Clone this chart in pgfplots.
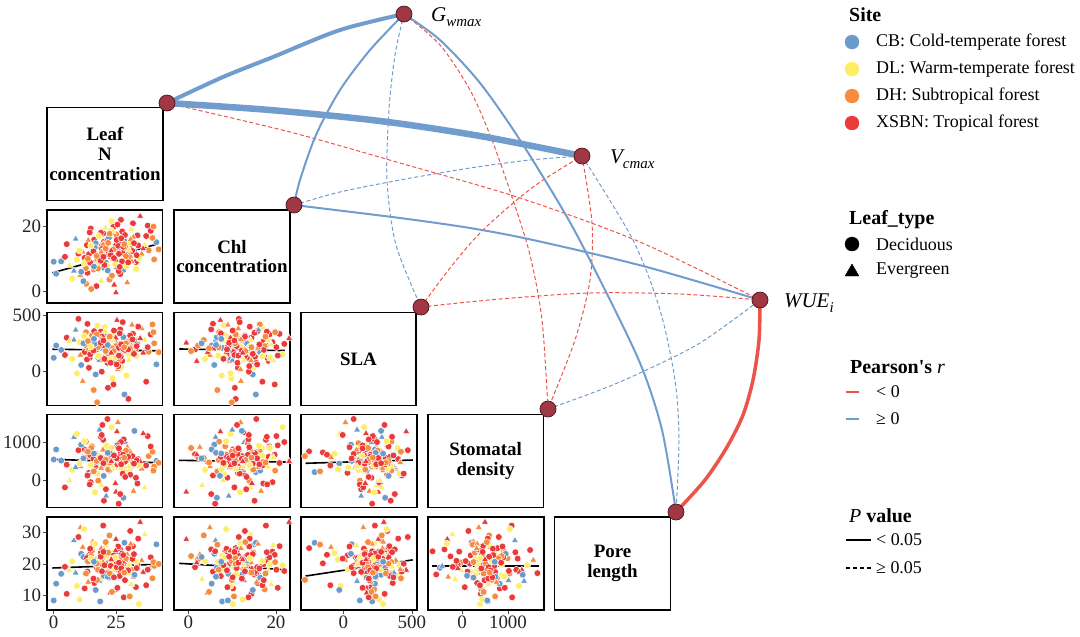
\documentclass[border=0pt]{standalone}
\usepackage{fontspec}
\setmainfont{Liberation Serif}[Ligatures=TeXOff]
\usepackage{pgfplots}
\usepackage{pgfplotstable}
\pgfplotsset{compat=1.18}

\definecolor{cbc}{RGB}{107,155,204}
\definecolor{dlc}{RGB}{255,238,100}
\definecolor{dhc}{RGB}{245,140,62}
\definecolor{xsc}{RGB}{234,58,58}
\definecolor{edgeblue}{RGB}{112,157,206}
\definecolor{edgered}{RGB}{236,84,74}
\definecolor{nodefill}{RGB}{160,56,68}
\definecolor{nodeedge}{RGB}{70,22,28}

\pgfplotstableread{
LN Chl SLA SD PL g
22.0 12.1 215 480 19.2 Rd
15.3 8.4 322 905 24.1 Od
30.2 14.6 148 252 17.3 Yd
8.1 6.2 281 1150 27.4 Ce
27.4 18.3 92 622 22.0 Rd
19.0 3.1 243 -148 15.2 Ye
35.2 11.4 383 301 21.1 Oe
12.4 10.2 172 820 12.3 Rd
41.1 15.0 61 512 26.2 Cd
25.3 7.3 458 1302 18.1 Re
17.8 13.9 120 -20 20.5 Od
23.6 9.8 -65 705 23.4 Yd
5.2 14.4 301 410 10.6 Rd
28.8 12.7 205 1010 14.8 Ce
33.5 17.1 266 -95 19.9 Rd
10.7 4.9 145 365 31.5 Oe
20.4 16.8 395 860 16.4 Yd
14.1 11.3 30 190 22.7 Rd
38.0 12.5 175 640 18.5 Od
24.9 -0.5 255 -320 27.8 Re
9.3 9.6 -20 1240 13.1 Yd
31.7 20.8 335 455 25.6 Rd
18.6 7.7 210 560 8.2 Cd
26.2 13.5 110 990 21.8 Od
13.5 5.6 425 120 17.6 Rd
36.4 14.2 280 -210 29.3 Ye
21.7 10.6 -150 740 20.2 Rd
3.0 9.1 190 520 16.9 Cd
29.4 2.6 240 880 23.0 Oe
16.2 15.8 360 330 14.0 Rd
23.1 21.5 150 1420 19.6 Yd
32.9 8.9 205 60 12.7 Rd
11.6 12.0 -90 610 25.3 Oe
27.9 6.5 305 -480 18.8 Cd
19.8 17.7 230 1080 32.1 Rd
7.4 3.8 110 270 20.8 Yd
39.5 16.3 420 760 15.5 Od
22.6 4.4 170 470 10.9 Re
14.8 19.2 260 -60 23.9 Rd
25.7 11.9 15 1550 21.2 Oe
34.1 10.1 290 390 7.4 Yd
17.1 1.5 195 690 19.0 Rd
28.3 15.4 -210 210 26.7 Cd
12.9 7.0 350 1030 17.0 Od
20.9 13.2 130 -250 22.4 Rd
31.0 18.9 240 580 13.6 Ye
9.9 11.5 470 800 28.5 Rd
24.4 9.4 85 330 20.0 Oe
37.6 20.1 215 1180 18.2 Rd
16.8 14.7 -30 440 11.8 Cd
26.6 5.2 375 -380 24.6 Rd
21.3 16.1 160 920 16.1 Yd
13.0 2.2 230 610 21.5 Od
30.6 12.9 320 140 30.4 Rd
18.3 10.0 100 1350 14.6 Ce
40.2 9.7 250 360 19.4 Od
23.9 19.7 -120 680 22.9 Rd
6.3 7.9 265 -10 18.0 Ye
28.0 13.7 185 1090 9.5 Rd
15.6 12.6 290 250 27.0 Oe
33.0 6.8 140 530 20.7 Yd
20.1 15.1 345 -560 16.7 Rd
11.0 5.9 55 950 23.2 Cd
25.0 17.4 225 420 12.0 Od
29.9 10.8 -250 770 25.0 Rd
17.5 8.1 410 170 19.7 Yd
35.8 13.0 165 1250 17.4 Re
22.3 3.5 280 590 29.0 Od
14.4 18.0 120 -120 21.0 Rd
1.0 5.3 230 820 13.8 Cd
27.1 14.9 35 330 18.4 Yd
19.5 11.1 300 1480 24.4 Rd
31.9 16.6 190 -300 15.9 Oe
24.2 1.9 90 680 20.4 Re
10.3 12.4 260 440 8.8 Yd
38.8 18.5 330 900 22.1 Rd
16.0 6.6 -170 230 26.1 Od
26.9 21.9 245 1020 17.8 Rd
21.0 9.2 130 -430 19.3 Ce
33.8 14.0 400 560 28.0 Rd
13.8 15.6 200 750 14.3 Oe
29.1 7.6 -40 290 21.4 Yd
18.9 17.9 355 1160 23.7 Rd
23.3 4.7 205 470 11.2 Od
4.5 10.5 145 -200 19.1 Rd
32.3 12.2 275 1320 16.6 Cd
20.7 19.4 95 610 25.9 Ye
27.6 11.7 440 170 20.1 Rd
15.0 0.6 180 860 22.5 Od
37.0 16.9 -95 390 13.3 Rd
12.2 8.6 315 1040 31.0 Yd
24.7 14.5 160 -90 18.6 Re
30.4 10.4 235 720 9.8 Od
19.2 13.8 -5 1210 21.7 Rd
8.8 16.0 370 340 17.2 Ce
26.0 6.1 210 -640 24.0 Rd
22.9 18.6 120 860 19.8 Yd
34.6 23.0 295 500 33.2 Re
17.4 9.9 -280 640 15.0 Od
28.6 13.3 185 80 20.9 Rd
11.9 3.0 250 580 22.2 Cd
21.5 15.5 75 1640 17.1 Rd
39.9 19.8 350 250 20.6 Od
16.5 11.8 225 -330 26.4 Yd
25.5 20.4 140 930 12.5 Rd
31.3 9.0 415 470 18.3 Oe
13.3 14.1 105 780 21.9 Rd
20.0 7.2 330 110 16.3 Cd
42.0 12.8 170 460 20.0 Od
0.0 9.0 120 550 8.5 Cd
18.5 9.5 240 520 20.3 Rd
24.0 12.8 180 610 18.9 Od
21.2 7.8 290 430 22.6 Yd
26.8 15.2 130 720 17.5 Rd
16.9 11.6 205 380 21.3 Re
29.5 13.1 260 560 19.5 Od
14.6 8.7 150 670 24.8 Rd
23.4 10.9 320 300 16.8 Yd
19.7 14.3 95 810 20.6 Oe
27.3 9.1 230 450 23.3 Rd
22.1 16.4 170 250 15.7 Cd
31.5 12.3 285 640 21.6 Rd
17.7 6.9 215 540 18.2 Od
25.8 13.9 45 880 25.5 Rd
20.6 10.3 355 370 19.1 Ye
28.5 17.2 190 490 14.9 Rd
13.7 9.9 270 760 20.8 Od
24.6 8.3 125 410 22.0 Yd
19.3 12.9 310 590 17.7 Rd
30.8 15.9 210 330 26.3 Oe
22.8 11.2 75 700 19.4 Rd
16.4 13.4 245 480 21.1 Cd
26.4 7.4 340 620 16.2 Rd
21.8 14.8 160 280 23.6 Od
33.2 11.0 225 530 18.7 Rd
18.0 16.9 135 650 20.9 Yd
24.8 9.6 300 390 24.2 Re
15.9 12.2 185 570 15.4 Rd
28.9 10.7 250 790 21.8 Od
20.3 8.0 110 460 19.6 Rd
23.7 18.2 275 350 17.9 Ye
27.8 13.6 200 680 22.8 Rd
17.2 10.8 330 510 20.1 Od
32.1 14.7 155 440 23.1 Rd
21.6 6.3 235 730 16.0 Cd
25.2 15.7 60 580 19.0 Rd
19.0 12.0 285 320 24.9 Oe
29.8 8.8 195 620 18.0 Rd
14.9 14.0 220 400 21.7 Yd
26.1 11.4 140 850 20.4 Rd
22.4 17.6 310 470 17.0 Od
18.8 9.3 255 590 22.3 Rd
30.1 12.6 100 360 19.8 Ye
24.1 10.1 365 660 15.8 Rd
20.8 13.0 180 540 26.9 Od
27.0 16.2 240 420 18.6 Rd
16.1 7.5 290 710 20.7 Cd
23.0 12.4 165 500 21.4 Re
28.2 14.4 215 600 17.3 Od
19.9 10.5 275 450 23.8 Rd
}\spdata

\pgfplotsset{
  panel/.style={
    scale only axis, width=116bp, height=93bp, anchor=north west,
    axis line style={line width=1.6bp, black},
    xtick pos=bottom, ytick pos=left, tick align=outside,
    major tick length=4bp,
    tick style={line width=0.8bp, black!70},
    tick label style={font=\fontsize{19}{19}\selectfont, text=black!85},
    yticklabel style={inner sep=1.5bp},
    xticklabel style={inner sep=1.5bp},
    /pgf/number format/assume math mode=true,
    /pgf/number format/set thousands separator={},
    scaled ticks=false,
    xtick=\empty, ytick=\empty,
  },
  sites/.style={
    scatter, only marks, scatter src=explicit symbolic,
    scatter/classes={
      Cd={mark=*, mark size=3.4bp, draw=white, fill=cbc, line width=0.5bp},
      Ce={mark=triangle*, mark size=4bp, draw=white, fill=cbc, line width=0.5bp},
      Yd={mark=*, mark size=3.4bp, draw=white, fill=dlc, line width=0.5bp},
      Ye={mark=triangle*, mark size=4bp, draw=white, fill=dlc, line width=0.5bp},
      Od={mark=*, mark size=3.4bp, draw=white, fill=dhc, line width=0.5bp},
      Oe={mark=triangle*, mark size=4bp, draw=white, fill=dhc, line width=0.5bp},
      Rd={mark=*, mark size=3.4bp, draw=white, fill=xsc, line width=0.5bp},
      Re={mark=triangle*, mark size=4bp, draw=white, fill=xsc, line width=0.5bp}
    }
  },
  fitline/.style={black, line width=1.6bp, no marks},
}

\newcommand{\colA}{46.7bp}
\newcommand{\colB}{174bp}
\newcommand{\colC}{301bp}
\newcommand{\colD}{427.7bp}
\newcommand{\rowB}{-210bp}
\newcommand{\rowC}{-312.5bp}
\newcommand{\rowD}{-414.5bp}
\newcommand{\rowE}{-517bp}

\begin{document}
\begin{tikzpicture}
\useasboundingbox (0,0) rectangle (1080bp,-637bp);

% ---- row 1: Chl vs Leaf N
\begin{axis}[panel, at={(\colA,\rowB)}, xmin=-2.8, xmax=43.6, ymin=-3.7, ymax=24.9, ytick={0,20}]
\addplot[sites] table[x=LN, y=Chl, meta=g] {\spdata};
\addplot[fitline] coordinates {(-0.5,5.6) (41.4,14.4)};
\end{axis}

% ---- row 2: SLA
\begin{axis}[panel, at={(\colA,\rowC)}, xmin=-2.8, xmax=43.6, ymin=-309, ymax=527, ytick={0,500}]
\addplot[sites] table[x=LN, y=SLA, meta=g] {\spdata};
\addplot[fitline] coordinates {(-0.5,197) (41.4,183)};
\end{axis}
\begin{axis}[panel, at={(\colB,\rowC)}, xmin=-3.3, xmax=23.2, ymin=-309, ymax=527]
\addplot[sites] table[x=Chl, y=SLA, meta=g] {\spdata};
\addplot[fitline] coordinates {(-2.1,199) (22,185)};
\end{axis}

% ---- row 3: Stomatal density
\begin{axis}[panel, at={(\colA,\rowD)}, xmin=-2.8, xmax=43.6, ymin=-742, ymax=1761, ytick={0,1000}]
\addplot[sites] table[x=LN, y=SD, meta=g] {\spdata};
\addplot[fitline] coordinates {(-0.7,555) (41.5,464)};
\end{axis}
\begin{axis}[panel, at={(\colB,\rowD)}, xmin=-3.3, xmax=23.2, ymin=-742, ymax=1761]
\addplot[sites] table[x=Chl, y=SD, meta=g] {\spdata};
\addplot[fitline] coordinates {(-2.2,528) (22.2,483)};
\end{axis}
\begin{axis}[panel, at={(\colC,\rowD)}, xmin=-309, xmax=537, ymin=-742, ymax=1761]
\addplot[sites] table[x=SLA, y=SD, meta=g] {\spdata};
\addplot[fitline] coordinates {(-276,448) (506,536)};
\end{axis}

% ---- row 4: Pore length
\begin{axis}[panel, at={(\colA,\rowE)}, xmin=-2.8, xmax=43.6, ymin=5.5, ymax=34.8, ytick={10,20,30}, xtick={0,25}]
\addplot[sites] table[x=LN, y=PL, meta=g] {\spdata};
\addplot[fitline] coordinates {(-0.5,18.74) (41.5,19.9)};
\end{axis}
\begin{axis}[panel, at={(\colB,\rowE)}, xmin=-3.3, xmax=23.2, ymin=5.5, ymax=34.8, xtick={0,20}]
\addplot[sites] table[x=Chl, y=PL, meta=g] {\spdata};
\addplot[fitline] coordinates {(-2.1,20.2) (22.4,18.2)};
\end{axis}
\begin{axis}[panel, at={(\colC,\rowE)}, xmin=-309, xmax=537, ymin=5.5, ymax=34.8, xtick={0,500}]
\addplot[sites] table[x=SLA, y=PL, meta=g] {\spdata};
\addplot[fitline] coordinates {(-276,16.2) (506,21.3)};
\end{axis}
\begin{axis}[panel, at={(\colD,\rowE)}, xmin=-745, xmax=1776, ymin=5.5, ymax=34.8, xtick={0,1000}]
\addplot[sites] table[x=SD, y=PL, meta=g] {\spdata};
\addplot[fitline] coordinates {(-648,19.4) (1670,19.4)};
\end{axis}

% ---- overlay: diagonal boxes, network, legend (pixel coordinates)
\begin{axis}[at={(0,0)}, anchor=north west, scale only axis, width=1080bp, height=637bp,
  xmin=0, xmax=1080, ymin=0, ymax=637, y dir=reverse, hide axis, clip=false]

\draw[line width=1.6bp] (axis cs:46.7,107.5) rectangle (axis cs:163.2,200.5);
\draw[line width=1.6bp] (axis cs:174,210) rectangle (axis cs:290,303);
\draw[line width=1.6bp] (axis cs:301,312.5) rectangle (axis cs:416,405.5);
\draw[line width=1.6bp] (axis cs:427.7,414.5) rectangle (axis cs:543.6,507.5);
\draw[line width=1.6bp] (axis cs:554.5,517) rectangle (axis cs:670.5,610);

\node[align=center, font=\fontsize{19}{20}\selectfont\bfseries] at (axis cs:105,154) {Leaf\\N\\concentration};
\node[align=center, font=\fontsize{19}{20}\selectfont\bfseries] at (axis cs:232,256.5) {Chl\\concentration};
\node[align=center, font=\fontsize{19}{20}\selectfont\bfseries] at (axis cs:358.5,359) {SLA};
\node[align=center, font=\fontsize{19}{20}\selectfont\bfseries] at (axis cs:485.6,461) {Stomatal\\density};
\node[align=center, font=\fontsize{19}{20}\selectfont\bfseries] at (axis cs:612.5,563.5) {Pore\\length};

% edges
\pgfplotsset{
  solidb/.style={edgeblue, no marks, smooth},
  dashb/.style={edgeblue, no marks, smooth, line width=1bp, dash pattern=on 4bp off 2.5bp},
  dashr/.style={edgered, no marks, smooth, line width=1bp, dash pattern=on 4bp off 2.5bp},
}
\addplot[dashr] coordinates {(167,103) (290,132) (400,163) (520,198) (640,242) (760,300)};
\addplot[dashb] coordinates {(404,14) (395,55) (389,110) (387,180) (396,245) (421,307)};
\addplot[dashr] coordinates {(404,14) (440,45) (470,90) (492,140) (513,200) (530,255) (542,320) (548,409)};
\addplot[dashb] coordinates {(294,205) (340,192) (400,180) (470,168) (530,160) (582,156)};
\addplot[dashr] coordinates {(421,307) (450,268) (483,230) (533,187) (582,156)};
\addplot[dashr] coordinates {(421,307) (500,299) (590,293) (680,294) (760,300)};
\addplot[dashr] coordinates {(582,156) (592,223) (590,280) (575,340) (548,409)};
\addplot[dashb] coordinates {(582,156) (633,240) (660,310) (675,380) (679,440) (676,512)};
\addplot[dashb] coordinates {(548,409) (600,390) (640,373) (700,343) (760,300)};
\addplot[solidb, line width=2bp] coordinates {(404,14) (370,50) (340,90) (316,135) (300,180) (294,205)};
\addplot[solidb, line width=2bp] coordinates {(404,14) (440,40) (480,83) (520,140) (567,217) (600,280) (640,363) (662,430) (676,512)};
\addplot[solidb, line width=2bp] coordinates {(294,205) (400,218) (470,228) (533,240) (643,266) (760,300)};
\addplot[solidb, line width=4bp] coordinates {(404,14) (340,30) (273,57) (223,77) (167,103)};
\addplot[solidb, line width=6.5bp] coordinates {(167,103) (270,110) (380,121) (480,136) (582,156)};
\addplot[edgered, no marks, smooth, line width=3.5bp] coordinates {(676,512) (705,480) (727,447) (743,415) (753,380) (759,340) (760,300)};

% nodes
\addplot[only marks, mark=*, mark size=8bp, mark options={fill=nodefill, draw=nodeedge, line width=0.7bp}]
  coordinates {(404,14) (167,103) (582,156) (294,205) (421,307) (760,300) (548,409) (676,512)};

\node[anchor=base west, inner sep=0, font=\fontsize{21}{21}\selectfont\itshape] at (axis cs:431,21) {G\raisebox{-0.25em}{\fontsize{15}{15}\selectfont wmax}};
\node[anchor=base west, inner sep=0, font=\fontsize{21}{21}\selectfont\itshape] at (axis cs:610,163) {V\raisebox{-0.25em}{\fontsize{15}{15}\selectfont cmax}};
\node[anchor=base west, inner sep=0, font=\fontsize{21}{21}\selectfont\itshape] at (axis cs:784,307) {WUE\raisebox{-0.25em}{\fontsize{15}{15}\selectfont i}};

% legend: Site
\node[anchor=west, inner sep=0, font=\fontsize{20}{20}\selectfont\bfseries] at (axis cs:849,15) {Site};
\addplot[only marks, mark=*, mark size=7bp, mark options={draw=cbc, fill=cbc}] coordinates {(852,42)};
\addplot[only marks, mark=*, mark size=7bp, mark options={draw=dlc, fill=dlc}] coordinates {(852,69)};
\addplot[only marks, mark=*, mark size=7bp, mark options={draw=dhc, fill=dhc}] coordinates {(852,96)};
\addplot[only marks, mark=*, mark size=7bp, mark options={draw=xsc, fill=xsc}] coordinates {(852,123)};
\node[anchor=west, inner sep=0, font=\fontsize{18}{18}\selectfont] at (axis cs:876,42) {CB: Cold-temperate forest};
\node[anchor=west, inner sep=0, font=\fontsize{18}{18}\selectfont] at (axis cs:876,69) {DL: Warm-temperate forest};
\node[anchor=west, inner sep=0, font=\fontsize{18}{18}\selectfont] at (axis cs:876,96) {DH: Subtropical forest};
\node[anchor=west, inner sep=0, font=\fontsize{18}{18}\selectfont] at (axis cs:876,123) {XSBN: Tropical forest};

% legend: Leaf type
\node[anchor=west, inner sep=0, font=\fontsize{20}{20}\selectfont\bfseries] at (axis cs:849,220) {Leaf\_type};
\addplot[only marks, mark=*, mark size=7bp, mark options={draw=black, fill=black}] coordinates {(852,244)};
\addplot[only marks, mark=triangle*, mark size=8bp, mark options={draw=black, fill=black}] coordinates {(852,272)};
\node[anchor=west, inner sep=0, font=\fontsize{18}{18}\selectfont] at (axis cs:876,244) {Deciduous};
\node[anchor=west, inner sep=0, font=\fontsize{18}{18}\selectfont] at (axis cs:876,271) {Evergreen};

% legend: Pearson's r
\node[anchor=west, inner sep=0, font=\fontsize{20}{20}\selectfont] at (axis cs:850,367) {\textbf{Pearson's} \textit{r}};
\addplot[edgered, line width=1.3bp, no marks] coordinates {(846,392) (859,392)};
\addplot[edgeblue, line width=1.3bp, no marks] coordinates {(846,419) (859,419)};
\node[anchor=west, inner sep=0, font=\fontsize{18}{18}\selectfont] at (axis cs:876,392) {< 0};
\node[anchor=west, inner sep=0, font=\fontsize{18}{18}\selectfont] at (axis cs:876,419) {≥ 0};

% legend: P value
\node[anchor=west, inner sep=0, font=\fontsize{20}{20}\selectfont] at (axis cs:849,516) {\textit{P} \textbf{value}};
\addplot[black, line width=1.6bp, no marks] coordinates {(846,540) (871,540)};
\addplot[black, line width=1.6bp, no marks, dash pattern=on 4bp off 3bp] coordinates {(846,568) (871,568)};
\node[anchor=west, inner sep=0, font=\fontsize{18}{18}\selectfont] at (axis cs:876,540) {< 0.05};
\node[anchor=west, inner sep=0, font=\fontsize{18}{18}\selectfont] at (axis cs:876,568) {≥ 0.05};
\end{axis}
\end{tikzpicture}
\end{document}
